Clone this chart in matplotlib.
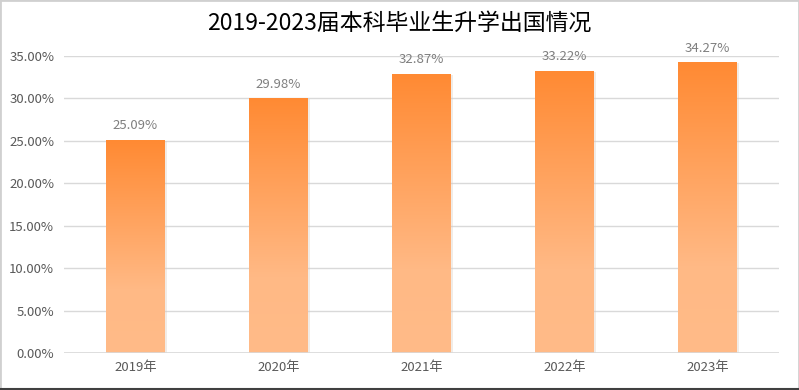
import numpy as np
import matplotlib.pyplot as plt
from matplotlib.colors import LinearSegmentedColormap
from matplotlib.patches import Rectangle
from matplotlib.lines import Line2D

plt.rcParams['font.family'] = ['Noto Sans CJK SC', 'DejaVu Sans']

years = ['2019年', '2020年', '2021年', '2022年', '2023年']
rates = [25.09, 29.98, 32.87, 33.22, 34.27]
yticks = [0, 5, 10, 15, 20, 25, 30, 35]

fig = plt.figure(figsize=(7.99, 3.90), dpi=100)
ax = fig.add_axes([64 / 799, 37 / 390, 715 / 799, 297 / 390])

x = np.arange(len(years))
width = 0.41
bars = ax.bar(x, rates, width=width, color='none', zorder=3)

# vertical gradient inside each bar: dark orange at top, light at bottom
cmap = LinearSegmentedColormap.from_list(
    'og', [(0, '#ffbb88'), (0.3, '#ffb985'), (1, '#ff8a33')])
grad = np.linspace(0, 1, 256).reshape(-1, 1)
for b in bars:
    x0, y0 = b.get_x(), b.get_y()
    w, h = b.get_width(), b.get_height()
    # faint shadow
    ax.add_patch(Rectangle((x0 + 0.012, y0), w, h - 0.1, color='#d9c9bd',
                           alpha=0.35, zorder=2, lw=0))
    ax.imshow(grad, cmap=cmap, origin='lower', aspect='auto',
              extent=[x0, x0 + w, y0, y0 + h], zorder=3)

for xi, v in zip(x, rates):
    ax.text(xi, v + 0.9, f'{v:.2f}%', ha='center', va='bottom',
            fontsize=9.5, color='#7f7f7f')

ax.set_xlim(-0.5, len(years) - 0.5)
ax.set_ylim(0, 35)
ax.set_yticks(yticks)
ax.set_yticklabels([f'{t:.2f}%' for t in yticks], fontsize=9.5, color='#595959')
ax.set_xticks(x)
ax.set_xticklabels(years, fontsize=9.5, color='#595959')
ax.tick_params(length=0, pad=7)
ax.tick_params(axis='x', pad=6)
ax.grid(axis='y', color='#d9d9d9', lw=1, zorder=0)
for s in ax.spines.values():
    s.set_visible(False)
ax.axhline(0, color='#d9d9d9', lw=1.2, zorder=4)

fig.text(0.5, 1 - 23 / 390, '2019-2023届本科毕业生升学出国情况',
         ha='center', va='center', fontsize=16.5, color='#000000')

fig.add_artist(Rectangle((0, 0), 1, 1, transform=fig.transFigure, fill=False,
                         edgecolor='#d0d0d0', lw=2))
fig.add_artist(Line2D([0, 1], [0.003, 0.003], transform=fig.transFigure,
                      color='#404040', lw=1.5))

fig.savefig('out.png', dpi=100)
